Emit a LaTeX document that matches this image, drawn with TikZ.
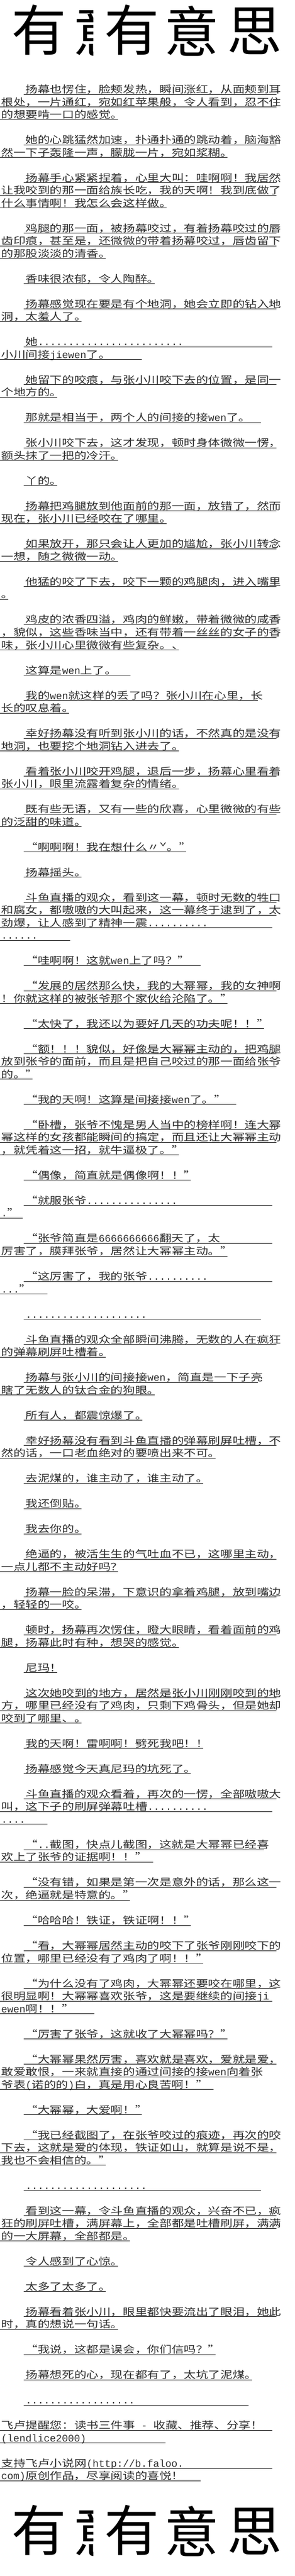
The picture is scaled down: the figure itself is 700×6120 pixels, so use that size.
\documentclass[tikz,border=0pt]{standalone}
\usepackage{fontspec}
\newfontfamily\cjk[FakeStretch=1.23,RawFeature=+fwid]{Noto Sans CJK SC}
\newfontfamily\cjkt{Noto Sans CJK SC}
\newfontfamily\latf{Liberation Mono}
\newcommand\bodyfont{\cjk\fontsize{23.5pt}{30pt}\selectfont}
\newcommand\titlefont{\cjkt\fontsize{130pt}{130pt}\selectfont}
\newcommand\ltn[1]{{\latf\fontsize{24pt}{30pt}\selectfont #1}}
\newcount\lnc
\tikzset{
  txt/.style={anchor=base west, inner sep=0pt, outer sep=0pt, font=\bodyfont, text=black!82},
  ul/.style={line width=1pt, black},
  ttl/.style={anchor=center, inner sep=0pt, outer sep=0pt, font=\titlefont, text=black}
}
% #1 line index k, #2 text x, #3 underline start x, #4 text, #5 underline end (empty = auto)
\newcommand\mkline[5]{%
  \global\advance\lnc by 1
  \edef\nm{t\the\lnc}%
  \node[txt] (\nm) at (#2, 221+30*#1) {#4};
  \coordinate (u\nm) at (#3, 224+30*#1);
  \if\relax\detokenize{#5}\relax
    \coordinate (e\nm) at ([xshift=-12pt]\nm.base east);
    \draw[ul] (u\nm) -- (e\nm |- u\nm);
  \else
    \coordinate (e\nm) at (#5, 224+30*#1);
    \draw[ul] (u\nm) -- (e\nm);
  \fi
}
\newcommand\LF[3][]{\mkline{#2}{60.8}{56}{#3}{#1}}
\newcommand\LC[3][]{\mkline{#2}{3}{0}{#3}{#1}}
\newcommand\titlerow[1]{%
  \begin{scope}
    \clip (0,#1) rectangle (221,#1+150);
    \node[ttl] (ta1#1) at (93,#1+71) {有};
    \node[ttl] (ta2#1) at (238,#1+74) {意};
  \end{scope}
  \node[ttl] (tb1#1) at (313,#1+71) {有};
  \node[ttl] (tb2#1) at (455,#1+74) {意};
  \node[ttl] (tb3#1) at (604,#1+74) {思};
}
\begin{document}
\begin{tikzpicture}[x=1pt,y=-1pt]
\useasboundingbox (0,0) rectangle (700,6120);
\fill[white] (0,0) rectangle (700,6120);
\titlerow{0}
\LF{0}{扬幕也愣住，脸颊发热，瞬间涨红，从面颊到耳}
\LC{1}{根处，一片通红，宛如红苹果般，令人看到，忍不住}
\LC{2}{的想要啃一口的感觉。}
\LF{4}{她的心跳猛然加速，扑通扑通的跳动着，脑海豁}
\LC{5}{然一下子轰隆一声，朦胧一片，宛如浆糊。}
\LF{7}{扬幕手心紧紧捏着，心里大叫：哇啊啊！我居然}
\LC{8}{让我咬到的那一面给族长吃，我的天啊！我到底做了}
\LC{9}{什么事情啊！我怎么会这样做。}
\LF{11}{鸡腿的那一面，被扬幕咬过，有着扬幕咬过的唇}
\LC{12}{齿印痕，甚至是，还微微的带着扬幕咬过，唇齿留下}
\LC{13}{的那股淡淡的清香。}
\LF{15}{香味很浓郁，令人陶醉。}
\LF{17}{扬幕感觉现在要是有个地洞，她会立即的钻入地}
\LC{18}{洞，太羞人了。}
\LF[646]{20}{她\ltn{........................}}
\LC[337]{21}{小川间接\ltn{jiewen}了。}
\LF{23}{她留下的咬痕，与张小川咬下去的位置，是同一}
\LC{24}{个地方的。}
\LF[619]{26}{那就是相当于，两个人的间接的接\ltn{wen}了。}
\LF{28}{张小川咬下去，这才发现，顿时身体微微一愣，}
\LC{29}{额头抹了一把的冷汗。}
\LF{31}{丫的。}
\LF{33}{扬幕把鸡腿放到他面前的那一面，放错了，然而}
\LC{34}{现在，张小川已经咬在了哪里。}
\LF{36}{如果放开，那只会让人更加的尴尬，张小川转念}
\LC{37}{一想，随之微微一动。}
\LF{39}{他猛的咬了下去，咬下一颗的鸡腿肉，进入嘴里}
\LC{40}{。}
\LF{42}{鸡皮的浓香四溢，鸡肉的鲜嫩，带着微微的咸香}
\LC{43}{，貌似，这些香味当中，还有带着一丝丝的女子的香}
\LC{44}{味，张小川心里微微有些复杂。、}
\LF[310]{46}{这算是\ltn{wen}上了。}
\LF{48}{我的\ltn{wen}就这样的丢了吗？张小川在心里，长}
\LC{49}{长的叹息着。}
\LF{51}{幸好扬幕没有听到张小川的话，不然真的是没有}
\LC{52}{地洞，也要挖个地洞钻入进去了。}
\LF{54}{看着张小川咬开鸡腿，退后一步，扬幕心里看着}
\LC{55}{张小川，眼里流露着复杂的情绪。}
\LF{57}{既有些无语，又有一些的欣喜，心里微微的有些}
\LC{58}{的泛甜的味道。}
\LF{60}{“啊啊啊！我在想什么〃ˇ。”}
\LF{62}{扬幕摇头。}
\LF{64}{斗鱼直播的观众，看到这一幕，顿时无数的牲口}
\LC{65}{和腐女，都嗷嗷的大叫起来，这一幕终于逮到了，太}
\LC[646]{66}{劲爆，让人感到了精神一震\ltn{..........}}
\LC[166]{67}{\ltn{......}}
\LF[476]{69}{“哇啊啊！这就\ltn{wen}上了吗？”}
\LF{71}{“发展的居然那么快，我的大幂幂，我的女神啊}
\LC{72}{！你就这样的被张爷那个家伙给沦陷了。”}
\LF{74}{“太快了，我还以为要好几天的功夫呢！！”}
\LF{76}{“额！！！貌似，好像是大幂幂主动的，把鸡腿}
\LC{77}{放到张爷的面前，而且是把自己咬过的那一面给张爷}
\LC{78}{的。”}
\LF[561]{80}{“我的天啊！这算是间接接\ltn{wen}了。”}
\LF{82}{“卧槽，张爷不愧是男人当中的榜样啊！连大幂}
\LC{83}{幂这样的女孩都能瞬间的搞定，而且还让大幂幂主动}
\LC{84}{，就凭着这一招，就牛逼极了。”}
\LF{86}{“偶像，简直就是偶像啊！！”}
\LF[646]{88}{“就服张爷\ltn{...............}}
\LC[54]{89}{\ltn{.}”}
\LF[646]{91}{“张爷简直是\ltn{6666666666}翻天了，太}
\LC{92}{厉害了，膜拜张爷，居然让大幂幂主动。”}
\LF[646]{94}{“这厉害了，我的张爷\ltn{..........}}
\LC[112]{95}{\ltn{...}”}
\LF[619]{97}{\ltn{....................}}
\LF{99}{斗鱼直播的观众全部瞬间沸腾，无数的人在疯狂}
\LC{100}{的弹幕刷屏吐槽着。}
\LF{102}{扬幕与张小川的间接接\ltn{wen}，简直是一下子亮}
\LC{103}{瞎了无数人的钛合金的狗眼。}
\LF{105}{所有人，都震惊爆了。}
\LF{107}{幸好扬幕没有看到斗鱼直播的弹幕刷屏吐槽，不}
\LC{108}{然的话，一口老血绝对的要喷出来不可。}
\LF{110}{去泥煤的，谁主动了，谁主动了。}
\LF{112}{我还倒贴。}
\LF{114}{我去你的。}
\LF{116}{绝逼的，被活生生的气吐血不已，这哪里主动，}
\LC{117}{一点儿都不主动好吗？}
\LF{119}{扬幕一脸的呆滞，下意识的拿着鸡腿，放到嘴边}
\LC{120}{，轻轻的一咬。}
\LF{122}{顿时，扬幕再次愣住，瞪大眼睛，看着面前的鸡}
\LC{123}{腿，扬幕此时有种，想哭的感觉。}
\LF{125}{尼玛！}
\LF{127}{这次她咬到的地方，居然是张小川刚刚咬到的地}
\LC{128}{方，哪里已经没有了鸡肉，只剩下鸡骨头，但是她却}
\LC{129}{咬到了哪里、。}
\LF{131}{我的天啊！雷啊啊！劈死我吧！！}
\LF{133}{扬幕感觉今天真尼玛的坑死了。}
\LF{135}{斗鱼直播的观众看着，再次的一愣，全部嗷嗷大}
\LC[646]{136}{叫，这下子的刷屏弹幕吐槽\ltn{..........}}
\LC[112]{137}{\ltn{....}}
\LF{139}{“\ltn{..}截图，快点儿截图，这就是大幂幂已经喜}
\LC[363]{140}{欢上了张爷的证据啊！！”}
\LF{142}{“没有错，如果是第一次是意外的话，那么这一}
\LC{143}{次，绝逼就是特意的。”}
\LF{145}{“哈哈哈！铁证，铁证啊！！”}
\LF{147}{“看，大幂幂居然主动的咬下了张爷刚刚咬下的}
\LC{148}{位置，哪里已经没有了鸡肉了啊！！”}
\LF{150}{“为什么没有了鸡肉，大幂幂还要咬在哪里，这}
\LC[646]{151}{很明显啊！大幂幂喜欢张爷，这是要继续的间接\ltn{ji}}
\LC[224]{152}{\ltn{ewen}啊！！”}
\LF{154}{“厉害了张爷，这就收了大幂幂吗？”}
\LF{156}{“大幂幂果然厉害，喜欢就是喜欢，爱就是爱，}
\LC{157}{敢爱敢恨，一来就直接的通过间接的接\ltn{wen}向着张}
\LC[507]{158}{爷表\ltn{(}诺的的\ltn{)}白，真是用心良苦啊！”}
\LF[336]{160}{“大幂幂，大爱啊！”}
\LF{162}{“我已经截图了，在张爷咬过的痕迹，再次的咬}
\LC{163}{下去，这就是爱的体现，铁证如山，就算是说不是，}
\LC{164}{我也不会相信的。”}
\LF[619]{166}{\ltn{....................}}
\LF{168}{看到这一幕，令斗鱼直播的观众，兴奋不已，疯}
\LC{169}{狂的刷屏吐槽，满屏幕上，全部都是吐槽刷屏，满满}
\LC{170}{的一大屏幕，全部都是。}
\LF{172}{令人感到了心惊。}
\LF{174}{太多了太多了。}
\LF{176}{扬幕看着张小川，眼里都快要流出了眼泪，她此}
\LC{177}{时，真的想说一句话。}
\LF{179}{“我说，这都是误会，你们信吗？”}
\LF{181}{扬幕想死的心，现在都有了，太坑了泥煤。}
\LF[590]{183}{\ltn{..................}}
\LC[646]{185}{飞卢提醒您：读书三件事\ltn{ - }收藏、推荐、分享！}
\LC[393]{186}{\ltn{(lendlice2000)}}
\LC[646]{188}{支持飞卢小说网\ltn{(http://b.faloo.}}
\LC[476]{189}{\ltn{com)}原创作品，尽享阅读的喜悦！}
\titlerow{5940}
\end{tikzpicture}
\end{document}
